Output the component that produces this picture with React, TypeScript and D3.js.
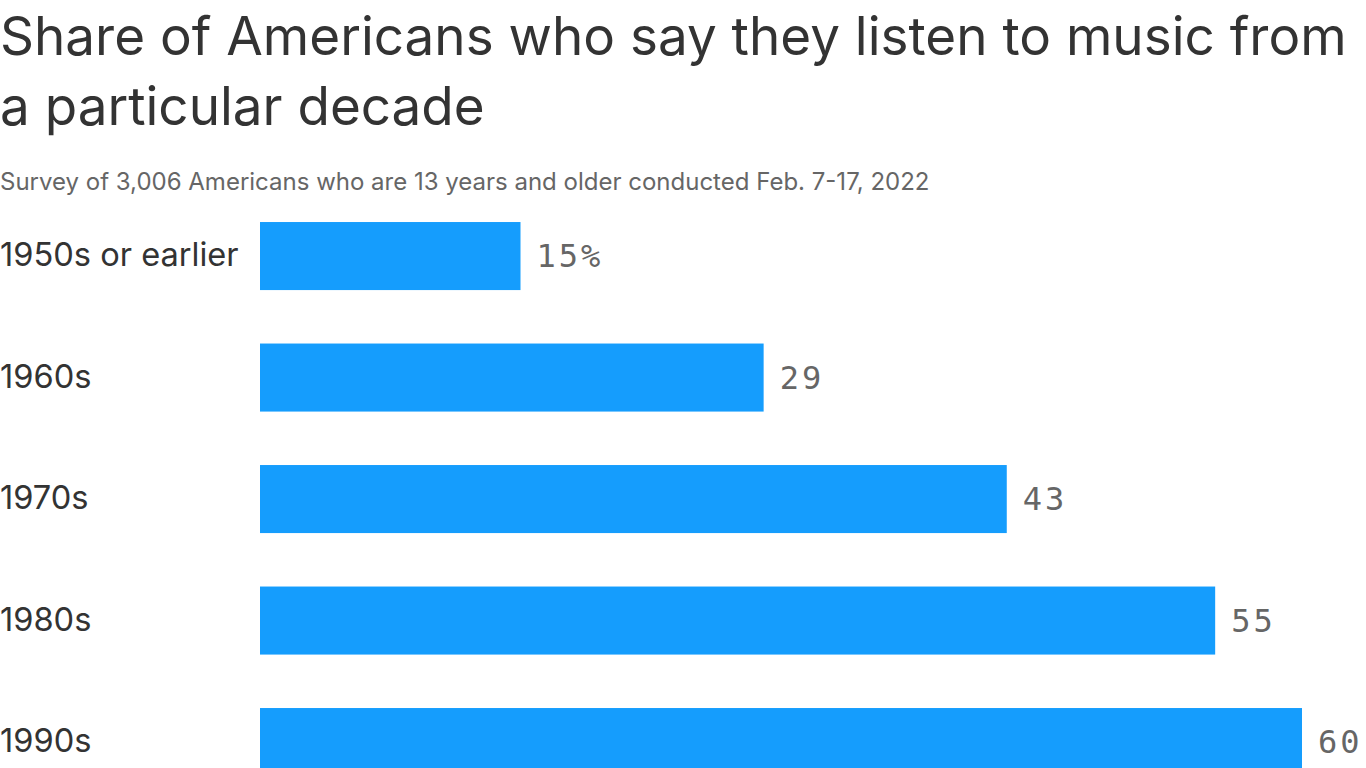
import React, { useEffect, useRef } from "react";
import * as d3 from "d3";

const categories = ["1950s or earlier", "1960s", "1970s", "1980s", "1990s"];
const values = [15, 29, 43, 55, 60];
const valueLabels = ["15%", "29", "43", "55", "60"];
const titleLines = [
  "Share of Americans who say they listen to music from",
  "a particular decade",
];
const subtitle = "Survey of 3,006 Americans who are 13 years and older conducted Feb. 7-17, 2022";

const W = 1366;
const H = 800;

export default function App() {
  const ref = useRef<SVGSVGElement>(null);
  useEffect(() => {
    document.body.style.margin = "0";
    const svg = d3.select(ref.current);
    svg.selectAll("*").remove();

    const x = d3.scaleLinear().domain([0, 60]).range([260, 1302]);
    const y = d3
      .scaleBand<string>()
      .domain(categories)
      .range([195.3, 195.3 + 5 * 121.5])
      .paddingInner(0.44)
      .paddingOuter(0.22);

    svg
      .selectAll("text.title")
      .data(titleLines)
      .join("text")
      .attr("class", "title")
      .attr("x", 0)
      .attr("y", (_, i) => 55 + i * 70)
      .attr("font-family", "Inter, 'Noto Sans', sans-serif")
      .attr("font-size", 53)
      .attr("fill", "#333333")
      .text((d) => d);

    svg
      .append("text")
      .attr("x", 0)
      .attr("y", 190)
      .attr("font-family", "Inter, 'Noto Sans', sans-serif")
      .attr("font-size", 24)
      .attr("fill", "#666666")
      .text(subtitle);

    const g = svg.append("g");
    g.selectAll("rect")
      .data(values)
      .join("rect")
      .attr("x", x(0))
      .attr("y", (_, i) => y(categories[i])!)
      .attr("width", (d) => x(d) - x(0))
      .attr("height", y.bandwidth())
      .attr("fill", "#159dfd");

    g.selectAll("text.cat")
      .data(categories)
      .join("text")
      .attr("class", "cat")
      .attr("x", 0)
      .attr("y", (d) => y(d)! + y.bandwidth() / 2 + 10)
      .attr("font-family", "Inter, 'Noto Sans', sans-serif")
      .attr("font-size", 32.6)
      .attr("fill", "#333333")
      .text((d) => d);

    g.selectAll("text.val")
      .data(values)
      .join("text")
      .attr("class", "val")
      .attr("x", (d) => x(d) + 16)
      .attr("y", (_, i) => y(categories[i])! + y.bandwidth() / 2 + 11)
      .attr("font-family", "'DejaVu Sans Mono', monospace")
      .attr("font-size", 32)
      .attr("letter-spacing", 3)
      .attr("fill", "#666666")
      .text((_, i) => valueLabels[i]);
  }, []);
  return <svg ref={ref} width={W} height={H} style={{ display: "block" }} />;
}
